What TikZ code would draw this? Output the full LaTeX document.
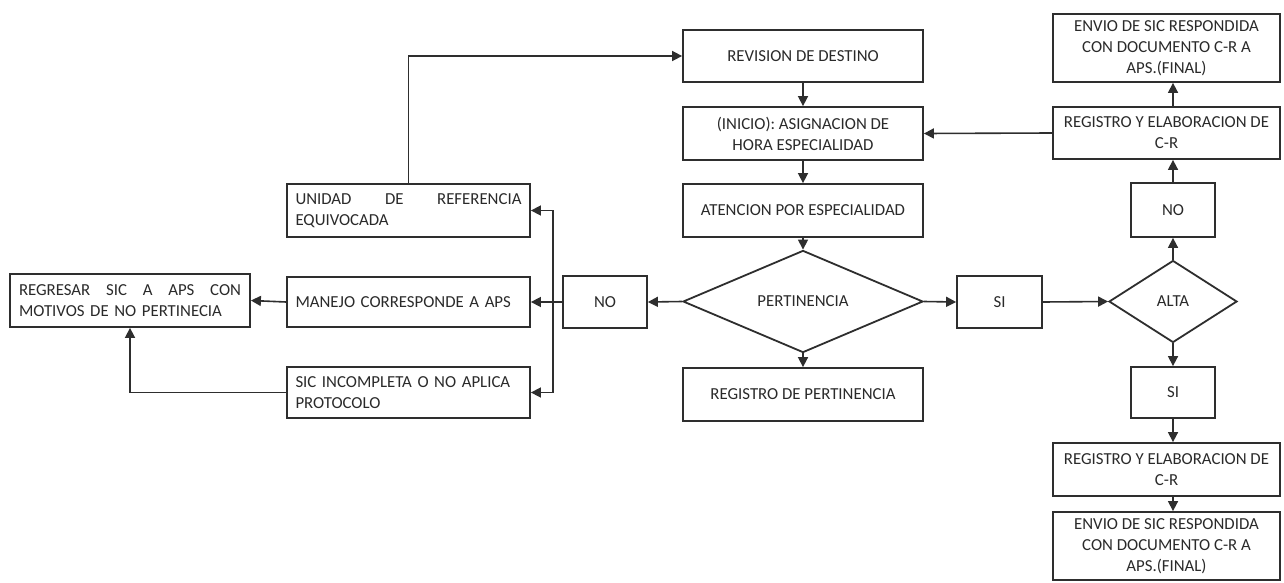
\documentclass[tikz,border=0pt]{standalone}
\usepackage{fontspec}
\setmainfont{Carlito}
\usetikzlibrary{positioning, arrows.meta, shapes.geometric}

\definecolor{linec}{HTML}{2E2E2E}
\definecolor{textc}{HTML}{2A2A2A}

\begin{document}
\begin{tikzpicture}[x=1pt, y=-1pt,
    box/.style={rectangle,
    draw=linec, % Box colour (edge).
    line width=1.8pt,
    text=textc,
    inner sep=4pt,
    align=center,
    font=\fontsize{16.8}{21}\selectfont},
    dec/.style={diamond,
    draw=linec,
    line width=1.8pt,
    text=textc,
    inner sep=0pt,
    font=\fontsize{16.8}{21}\selectfont},
    arrow/.style={draw=linec, line width=1.6pt, -{Triangle[width=10pt, length=10pt]}}]

        \useasboundingbox[fill=white] (0,0) rectangle (1284,583);

        % Nodes.
        \node[box, minimum width=240pt, minimum height=52pt] (rev) at (803,56) {REVISION DE DESTINO};
        \node[box, minimum width=240pt, minimum height=53pt] (ini) at (803,133.5) {(INICIO): ASIGNACION DE\\HORA ESPECIALIDAD};
        \node[box, minimum width=240pt, minimum height=53pt] (ate) at (803,210.5) {ATENCION POR ESPECIALIDAD};
        \node[dec, minimum width=240pt, minimum height=81pt] (per) at (803,301.5) {PERTINENCIA};
        \node[box, minimum width=240pt, minimum height=53pt] (regp) at (803,394.5) {REGISTRO DE PERTINENCIA};
        \node[box, minimum width=84pt, minimum height=52pt] (no) at (605,302) {NO};
        \node[box, minimum width=243pt, minimum height=53pt, text width=226pt, align=left] (uni) at (408.5,210.5) {UNIDAD \hfill DE \hfill REFERENCIA\\EQUIVOCADA};
        \node[box, minimum width=243pt, minimum height=50pt, text width=226pt, align=left] (man) at (408.5,302) {MANEJO CORRESPONDE A APS};
        \node[box, minimum width=243pt, minimum height=51pt, text width=226pt, align=left] (sic) at (408.5,392.5) {SIC INCOMPLETA O NO APLICA\\PROTOCOLO};
        \node[box, minimum width=240pt, minimum height=53pt, text width=222pt, align=left] (regr) at (130,300.5) {REGRESAR \hfill SIC \hfill A \hfill APS \hfill CON\\MOTIVOS DE NO PERTINECIA};
        \node[box, minimum width=85pt, minimum height=52pt] (si) at (999.5,302) {SI};
        \node[dec, minimum width=128pt, minimum height=82pt] (alta) at (1173,301.5) {ALTA};
        \node[box, minimum width=84pt, minimum height=54pt] (nosm) at (1173,210) {NO};
        \node[box, minimum width=227pt, minimum height=52pt] (regt) at (1166.5,133) {REGISTRO Y ELABORACION DE\\C-R};
        \node[box, minimum width=227pt, minimum height=68pt] (envt) at (1166.5,48) {ENVIO DE SIC RESPONDIDA\\CON DOCUMENTO C-R A\\APS.(FINAL)};
        \node[box, minimum width=84pt, minimum height=51pt] (sib) at (1173,392.5) {SI};
        \node[box, minimum width=227pt, minimum height=53pt] (regb) at (1166.5,469.5) {REGISTRO Y ELABORACION DE\\C-R};
        \node[box, minimum width=227pt, minimum height=68pt] (envb) at (1166.5,546) {ENVIO DE SIC RESPONDIDA\\CON DOCUMENTO C-R A\\APS.(FINAL)};
        \coordinate (bar) at (553,302);

        % Downward edges.
        \foreach \i/\j in {rev/ini, ini/ate, ate/per, per/regp, alta/sib}
        \draw[arrow] (\i.south) -- (\j.north);

        % Sideways edges.
        \foreach \i/\j in {per/no, man/regr, regt/ini}
        \draw[arrow] (\i.west) -- (\j.east);
        \foreach \i/\j in {per/si, si/alta}
        \draw[arrow] (\i.east) -- (\j.west);

        % Branches to the left.
        \draw[linec, line width=1.6pt] (no.west) -- (bar);
        \draw[arrow] (bar) |- (uni.east);
        \draw[arrow] (bar) -- (man.east);
        \draw[arrow] (bar) |- (sic.east);
        \draw[arrow] (sic.west) -| (regr.south);
        \draw[arrow] (uni.north) |- (rev.west);

        % Right column.
        \draw[arrow] (alta.north) -- (nosm.south);
        \draw[arrow] (nosm.north) -- (nosm.north |- regt.south);
        \draw[arrow] (nosm.north |- regt.north) -- (nosm.north |- envt.south);
        \draw[arrow] (sib.south) -- (sib.south |- regb.north);
        \draw[arrow] (sib.south |- regb.south) -- (sib.south |- envb.north);
    \end{tikzpicture}
\end{document}
